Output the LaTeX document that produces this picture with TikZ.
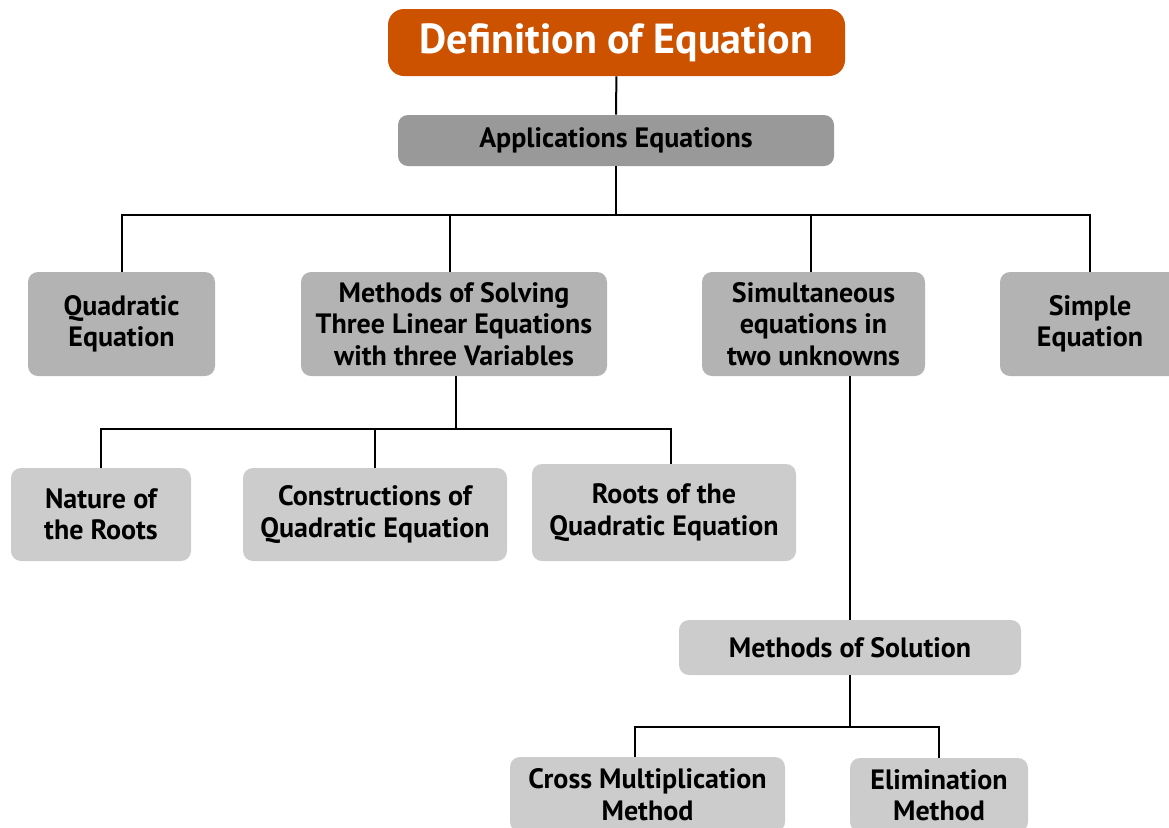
\documentclass[tikz,border=0pt]{standalone}
\usepackage{fontspec}
\setmainfont{PT Sans}
\definecolor{titleorange}{RGB}{204,82,0}
\definecolor{grayA}{RGB}{153,153,153}
\definecolor{grayB}{RGB}{179,179,179}
\definecolor{grayC}{RGB}{204,204,204}
\begin{document}
\begin{tikzpicture}[x=0.5pt,y=-0.5pt,
	box/.style={rounded corners=5pt, align=center, inner sep=0pt, font=\fontsize{14}{15.75}\selectfont\bfseries},
	titlebox/.style={box, rounded corners=8pt, fill=titleorange, text=white, font=\fontsize{21}{24}\selectfont\bfseries},
	levelA/.style={box, fill=grayA},
	levelB/.style={box, fill=grayB},
	levelC/.style={box, fill=grayC},
	link/.style={line width=1pt}]
		\useasboundingbox (0,0) rectangle (1169,827);
		\node[titlebox, minimum width=228.5pt, minimum height=33.5pt] (title) at (616.5,42.5) {Definition of Equation};
		\node[levelA, minimum width=218pt, minimum height=25.5pt] (app) at (616,140.5) {Applications Equations};
		\node[levelB, minimum width=93.5pt, minimum height=52pt] (quad) at (121.5,324) {Quadratic\\Equation};
		\node[levelB, minimum width=153pt, minimum height=52pt] (msolv) at (454,324) {Methods of Solving\\Three Linear Equations\\with three Variables};
		\node[levelB, minimum width=111.5pt, minimum height=52pt] (simul) at (813.5,324) {Simultaneous\\equations in\\two unknowns};
		\node[levelB, minimum width=90pt, minimum height=52pt] (simple) at (1090,324) {Simple\\Equation};
		\node[levelC, minimum width=90pt, minimum height=46.5pt] (nature) at (101,514.5) {Nature of\\the Roots};
		\node[levelC, minimum width=132pt, minimum height=46.5pt] (constr) at (375,514.5) {Constructions of\\Quadratic Equation};
		\node[levelC, minimum width=132pt, minimum height=48.5pt] (roots) at (664,512.5) {Roots of the\\Quadratic Equation};
		\node[levelC, minimum width=171pt, minimum height=27.5pt] (msol) at (850,647.5) {Methods of Solution};
		\node[levelC, minimum width=137.5pt, minimum height=37.5pt] (cross) at (647.5,794.5) {Cross Multiplication\\Method};
		\node[levelC, minimum width=89pt, minimum height=37pt] (elim) at (939,795) {Elimination\\Method};
		\coordinate (j1) at (616,215);
		\coordinate (j2) at ([xshift=1pt,yshift=-26.5pt]msolv.south);
		\coordinate (j3) at ([yshift=-26pt]msol.south);
		\draw[link] (title) -- (app);
		\draw[link] (app) -- (j1);
		\draw[link] (quad) |- (j1) -| (simple);
		\draw[link] ([xshift=-2pt]msolv.north) -- ([xshift=-2pt]msolv.north |- j1);
		\draw[link] ([xshift=-1.25pt]simul.north) -- ([xshift=-1.25pt]simul.north |- j1);
		\draw[link] ([xshift=1pt]msolv.south) -- (j2);
		\draw[link] (nature) |- (j2) -| ([xshift=3.5pt]roots.north);
		\draw[link] (constr) -- (constr |- j2);
		\draw[link] (msol.north) -- (msol.north |- simul.south);
		\draw[link] (msol) -- (j3);
		\draw[link] ([xshift=-6.25pt]cross.north) |- (j3) -| (elim);
\end{tikzpicture}
\end{document}
